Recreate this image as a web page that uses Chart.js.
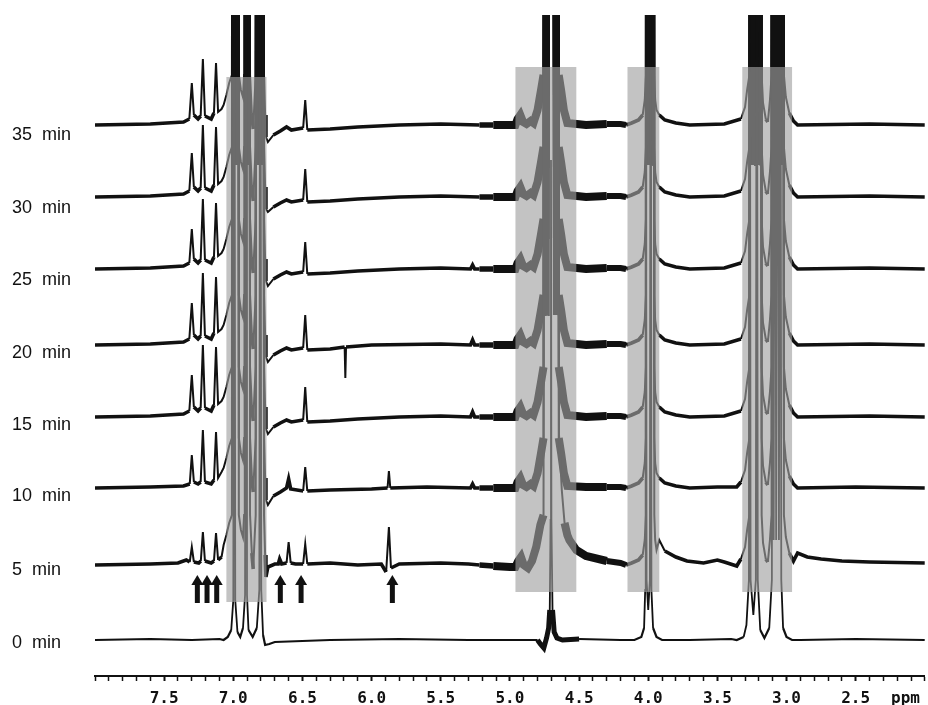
<!DOCTYPE html>
<html>
<head>
<meta charset="utf-8">
<script src="https://cdn.jsdelivr.net/npm/chart.js@4.4.1/dist/chart.umd.min.js"></script>
<style>
  html, body { margin: 0; padding: 0; background: #fff; }
  #wrap { width: 928px; height: 705px; position: relative; }
</style>
</head>
<body>
<div id="wrap"><canvas id="nmr"></canvas></div>
<script>
// trace names, bottom to top, with the level of each baseline (y units) and its label
const traceLabels = ['0  min', '5  min', '10  min', '15  min', '20  min', '25  min', '30  min', '35  min'];
const baselines = [36, 111, 188, 259, 331, 407, 479, 551];
const labelLevels = [33, 106, 180, 251, 323, 396, 468, 541];

// ppm axis
const majorTicks = [7.5, 7.0, 6.5, 6.0, 5.5, 5.0, 4.5, 4.0, 3.5, 3.0, 2.5];
const ppmTickAt = 2.14;

// shaded windows [ppm from, ppm to, y low, y high]
const shadeBoxes = [
    [7.05, 6.76, 74, 599],
    [4.96, 4.52, 84, 609],
    [4.15, 3.92, 84, 609],
    [3.32, 2.96, 84, 609]
];
// arrows under the 5 min trace
const arrowPpm = [7.26, 7.19, 7.12, 6.66, 6.51, 5.85];
const arrowSpan = [73, 101];

// strong signals, [ppm, height above baseline]; they run off the top
const aromaticPeaks = [
    [7.07, 20], [7.05, 30], [7.03, 42], [7.01, 50], [7.003, 900], [6.997, 400], [6.99, 900], [6.983, 400],
    [6.976, 900], [6.97, 400], [6.964, 900], [6.96, 50], [6.945, 35], [6.93, 28], [6.922, 50],
    [6.917, 900], [6.911, 400], [6.905, 900], [6.899, 400], [6.893, 900], [6.888, 400], [6.884, 900], [6.879, 50],
    [6.866, 12], [6.856, -4], [6.845, 30], [6.838, 50], [6.834, 900], [6.827, 400], [6.82, 900], [6.813, 400],
    [6.806, 900], [6.8, 400], [6.794, 900], [6.788, 400], [6.783, 900], [6.778, 50], [6.77, 10], [6.764, -12]
];
const waterPeaks = [
    [4.96, 0], [4.945, 6], [4.925, 10], [4.905, 3], [4.88, 1], [4.85, 4], [4.83, 2], [4.80, 15], [4.775, 35],
    [4.757, 50], [4.752, 900], [4.746, 250], [4.74, 900], [4.734, 250], [4.728, 900], [4.723, 250], [4.719, 900],
    [4.704, 700],
    [4.688, 900], [4.682, 250], [4.676, 900], [4.67, 250], [4.664, 900], [4.658, 250], [4.652, 900],
    [4.647, 50], [4.63, 35], [4.61, 15], [4.585, 2]
];
const waterPeaks5 = [
    [4.96, -2], [4.94, 4], [4.92, 8], [4.9, 0], [4.87, -3], [4.84, 4], [4.81, 18], [4.78, 40],
    [4.757, 50], [4.752, 900], [4.746, 250], [4.74, 900], [4.734, 250], [4.728, 900], [4.723, 250], [4.719, 900],
    [4.704, 700],
    [4.688, 900], [4.682, 250], [4.676, 900], [4.67, 250], [4.664, 900], [4.658, 250], [4.652, 900],
    [4.645, 130], [4.625, 75], [4.605, 42], [4.585, 30]
];
const peak40 = [
    [4.16, 0], [4.12, 2], [4.07, 5], [4.04, 10], [4.025, 25], [4.017, 50], [4.013, 900], [4.006, 400], [3.999, 900],
    [3.992, 400], [3.985, 900], [3.978, 400], [3.971, 900], [3.965, 400], [3.96, 900], [3.956, 50], [3.95, 25], [3.94, 15]
];
const peaks32 = [
    [3.33, 6], [3.30, 18], [3.285, 35], [3.268, 50], [3.263, 900], [3.256, 400], [3.249, 900],
    [3.242, 400], [3.235, 900], [3.228, 400], [3.221, 900], [3.214, 400], [3.207, 900], [3.2, 400], [3.193, 900],
    [3.188, 400], [3.185, 900], [3.18, 50], [3.17, 22], [3.15, 6], [3.135, 3], [3.12, 25], [3.108, 50],
    [3.104, 900], [3.097, 400], [3.09, 900], [3.083, 400], [3.076, 900], [3.069, 400], [3.062, 900], [3.055, 400],
    [3.048, 900], [3.041, 400], [3.034, 900], [3.028, 400], [3.024, 900], [3.019, 50], [3.005, 28], [2.98, 12], [2.95, 4]
];

// 0 min: narrow, clean signals
const zeroAromatic = [
    [7.07, 0], [7.04, 3], [7.015, 10], [7.0, 40], [6.993, 900], [6.986, 40], [6.97, 8], [6.95, 3], [6.93, 12],
    [6.915, 45], [6.908, 900], [6.901, 45], [6.89, 10], [6.86, 3], [6.83, 12], [6.812, 50], [6.805, 900],
    [6.798, 50], [6.785, 5], [6.77, -5]
];
const zeroWater = [
    [4.80, 0], [4.78, -4], [4.755, -8], [4.735, 2], [4.72, 12], [4.712, 30], [4.706, 120], [4.703, 480],
    [4.7, 120], [4.692, 30], [4.68, 8], [4.66, 2], [4.62, 0]
];
const zero40 = [
    [4.10, 0], [4.05, 3], [4.03, 12], [4.022, 50], [4.018, 900], [4.012, 60], [4.0, 30], [3.988, 60],
    [3.982, 900], [3.977, 50], [3.965, 12], [3.94, 3], [3.9, 0]
];
const zero32 = [
    [3.36, 0], [3.31, 3], [3.29, 15], [3.272, 60], [3.266, 900], [3.26, 60], [3.24, 25], [3.222, 60],
    [3.215, 900], [3.208, 60], [3.19, 10], [3.16, 2], [3.125, 12], [3.106, 60], [3.1, 900], [3.093, 100],
    [3.085, 900], [3.075, 100], [3.065, 900], [3.055, 100], [3.045, 900], [3.038, 60], [3.025, 12], [3.0, 3], [2.96, 0]
];

// weaker signals of each trace, outside the shaded windows
const trace0 = [
    [8.0, 0], [7.6, 1], [7.3, 0], [7.1, 1], [6.74, -4], [6.7, -2], [6.3, 0], [5.8, 1], [5.3, 0], [4.95, 0],
    [4.5, 1], [4.2, 0], [3.7, 0], [3.4, 1], [2.9, 0], [2.5, 1], [2.0, 0]
];
const trace5 = [
    [8.0, 0], [7.6, 1], [7.4, 2], [7.34, 5], [7.315, 3], [7.30, 18], [7.285, 3], [7.25, 2], [7.235, 4],
    [7.22, 33], [7.205, 4], [7.16, 2], [7.14, 4], [7.125, 32], [7.11, 5], [7.085, 8],
    [6.75, -2], [6.70, 1], [6.675, 1], [6.665, 6], [6.65, 1], [6.615, 2], [6.60, 23], [6.585, 2], [6.55, 1],
    [6.495, 1], [6.48, 21], [6.465, 1], [6.3, 2], [6.1, 0], [5.93, 1], [5.895, -7], [5.875, 38], [5.86, -3],
    [5.8, 1], [5.5, 2], [5.3, 1], [5.22, 0], [5.12, -1], [5.0, -2],
    [4.57, 25], [4.52, 15], [4.45, 9], [4.3, 4], [4.2, 2], [3.92, 25], [3.88, 14], [3.8, 8], [3.72, 4],
    [3.6, 2], [3.5, 5], [3.45, 3], [3.36, -1], [2.92, 12], [2.85, 8], [2.75, 6], [2.6, 4], [2.4, 3], [2.0, 2]
];
const trace10 = [
    [8.0, 0], [7.6, 1], [7.36, 2], [7.315, 4], [7.30, 33], [7.285, 6], [7.255, 4], [7.236, 6], [7.22, 58],
    [7.205, 6], [7.16, 4], [7.14, 8], [7.125, 56], [7.11, 10], [7.085, 16],
    [6.75, -17], [6.71, -8], [6.66, -4], [6.615, 0], [6.60, 9], [6.585, -1], [6.495, -3], [6.48, 21],
    [6.465, -3], [6.3, -2], [6.0, -1], [5.885, 0], [5.875, 17], [5.865, 0], [5.6, 1], [5.285, 0], [5.27, 4],
    [5.255, 0], [5.22, 0], [5.12, 0], [5.0, 0],
    [4.45, 1], [4.3, 1], [4.2, 1], [3.92, 10], [3.88, 5], [3.8, 2], [3.7, 0], [3.5, 1], [3.36, 1], [2.92, 0], [2.5, 1], [2.0, 0]
];
const trace15 = [
    [8.0, 0], [7.6, 1], [7.36, 3], [7.318, 6], [7.30, 42], [7.285, 10], [7.255, 6], [7.236, 9], [7.22, 72],
    [7.205, 9], [7.16, 6], [7.14, 12], [7.125, 70], [7.11, 13], [7.085, 16],
    [6.75, -17], [6.71, -10], [6.66, -6], [6.615, -3], [6.58, -5], [6.495, -3], [6.48, 30], [6.465, -5],
    [6.3, -4], [6.1, -2], [5.8, 0], [5.5, 1], [5.285, 0], [5.27, 5], [5.255, 0], [5.22, 0], [5.12, 0], [5.0, 0],
    [4.45, 0], [4.3, 1], [4.2, 1], [3.92, 10], [3.88, 5], [3.8, 2], [3.7, 0], [3.45, 1], [2.92, 0], [2.4, 1], [2.0, 0]
];
const trace20 = [
    [8.0, 0], [7.6, 1], [7.36, 3], [7.318, 6], [7.30, 42], [7.285, 10], [7.255, 6], [7.236, 9], [7.22, 72],
    [7.205, 9], [7.16, 6], [7.14, 12], [7.125, 68], [7.11, 13], [7.085, 16],
    [6.75, -17], [6.71, -10], [6.66, -6], [6.615, -3], [6.58, -5], [6.495, -3], [6.48, 30], [6.465, -5],
    [6.3, -4], [6.195, -2], [6.19, -33], [6.185, -2], [6.0, 0], [5.5, 1], [5.285, 0], [5.27, 5], [5.255, 0],
    [5.22, 0], [5.12, 0], [5.0, 0],
    [4.45, 0], [4.3, 1], [4.2, 1], [3.92, 10], [3.88, 5], [3.8, 2], [3.7, 0], [3.45, 1], [2.92, 0], [2.4, 1], [2.0, 0]
];
const trace25 = [
    [8.0, 0], [7.6, 1], [7.36, 3], [7.318, 6], [7.30, 40], [7.285, 10], [7.255, 6], [7.236, 9], [7.22, 70],
    [7.205, 9], [7.16, 6], [7.14, 12], [7.125, 66], [7.11, 13], [7.085, 16],
    [6.75, -17], [6.71, -10], [6.66, -6], [6.615, -3], [6.58, -5], [6.495, -3], [6.48, 27], [6.465, -5],
    [6.3, -4], [6.1, -2], [5.8, 0], [5.5, 1], [5.285, 0], [5.27, 4], [5.255, 0], [5.22, 0], [5.12, 0], [5.0, 0],
    [4.45, 0], [4.3, 1], [4.2, 1], [3.92, 10], [3.88, 5], [3.8, 2], [3.7, 0], [3.45, 1], [2.92, 0], [2.4, 1], [2.0, 0]
];
const trace30 = [
    [8.0, 0], [7.6, 1], [7.36, 3], [7.318, 6], [7.30, 44], [7.285, 10], [7.255, 6], [7.236, 9], [7.22, 72],
    [7.205, 9], [7.16, 6], [7.14, 12], [7.125, 70], [7.11, 13], [7.085, 16],
    [6.75, -15], [6.71, -10], [6.66, -6], [6.615, -3], [6.58, -5], [6.495, -3], [6.48, 28], [6.465, -5],
    [6.3, -4], [6.1, -2], [5.8, 0], [5.5, 1], [5.22, 0], [5.12, 0], [5.0, 0],
    [4.45, 0], [4.3, 1], [4.2, 1], [3.92, 10], [3.88, 5], [3.8, 2], [3.7, 0], [3.45, 1], [2.92, 0], [2.4, 1], [2.0, 0]
];
const trace35 = [
    [8.0, 0], [7.6, 1], [7.36, 3], [7.318, 6], [7.30, 42], [7.285, 10], [7.255, 6], [7.236, 9], [7.22, 66],
    [7.205, 9], [7.16, 6], [7.14, 12], [7.125, 62], [7.11, 13], [7.085, 16],
    [6.75, -17], [6.71, -10], [6.66, -6], [6.615, -2], [6.58, -5], [6.495, -3], [6.48, 25], [6.465, -5],
    [6.3, -4], [6.1, -2], [5.8, 0], [5.5, 1], [5.22, 0], [5.12, 0], [5.0, 0],
    [4.45, 0], [4.3, 1], [4.2, 1], [3.92, 10], [3.88, 5], [3.8, 2], [3.7, 0], [3.45, 1], [2.92, 0], [2.4, 1], [2.0, 0]
];

const traceParts = [
    [trace0, zeroAromatic, zeroWater, zero40, zero32],
    [trace5, aromaticPeaks, waterPeaks5, peak40, peaks32],
    [trace10, aromaticPeaks, waterPeaks, peak40, peaks32],
    [trace15, aromaticPeaks, waterPeaks, peak40, peaks32],
    [trace20, aromaticPeaks, waterPeaks, peak40, peaks32],
    [trace25, aromaticPeaks, waterPeaks, peak40, peaks32],
    [trace30, aromaticPeaks, waterPeaks, peak40, peaks32],
    [trace35, aromaticPeaks, waterPeaks, peak40, peaks32]
];

// join the pieces of a trace and lift it to its baseline
function buildTrace(i) {
    const pts = [].concat(...traceParts[i]).sort((a, b) => b[0] - a[0]);
    return pts.map(p => ({ x: p[0], y: baselines[i] + p[1] }));
}

// thick noisy band near the baseline, thin lines on the peaks
function segWidth(ctx) {
    const i = ctx.datasetIndex;
    const r0 = ctx.p0.parsed.y - baselines[i];
    const r1 = ctx.p1.parsed.y - baselines[i];
    const x0 = ctx.p0.parsed.x;
    const low = lim => Math.abs(r0) < lim && Math.abs(r1) < lim;
    if (i === 0) {
        if (x0 <= 4.80 && x0 >= 4.62 && low(35)) return 5;
        return low(15) ? 2.2 : 1.8;
    }
    if (low(60)) {
        if (x0 <= 5.22 && x0 > 5.12) return 5.5;
        if (x0 <= 5.12 && x0 > 4.3) return 8;
        if (x0 <= 4.3 && x0 > 4.16) return 6;
    }
    return low(15) ? 3.6 : 2;
}

const overlayPlugin = {
    id: 'overlay',
    afterDatasetsDraw(chart) {
        const { ctx, scales: { x, y } } = chart;
        ctx.save();
        ctx.fillStyle = 'rgba(160,160,160,0.63)';
        shadeBoxes.forEach(b => {
            const l = x.getPixelForValue(b[0]);
            const r = x.getPixelForValue(b[1]);
            const t = y.getPixelForValue(b[3]);
            const btm = y.getPixelForValue(b[2]);
            ctx.fillRect(l, t, r - l, btm - t);
        });
        ctx.fillStyle = '#111';
        arrowPpm.forEach(p => {
            const cx = x.getPixelForValue(p);
            const tip = y.getPixelForValue(arrowSpan[1]);
            const end = y.getPixelForValue(arrowSpan[0]);
            ctx.fillRect(cx - 2.5, tip + 8, 5, end - tip - 8);
            ctx.beginPath();
            ctx.moveTo(cx, tip);
            ctx.lineTo(cx - 6, tip + 10);
            ctx.lineTo(cx + 6, tip + 10);
            ctx.closePath();
            ctx.fill();
        });
        ctx.restore();
    }
};

const ctx = document.getElementById('nmr').getContext('2d');
new Chart(ctx, {
    type: 'line',
    data: {
        datasets: traceLabels.map((lab, i) => ({
            label: lab,
            data: buildTrace(i),
            borderColor: '#111',
            borderWidth: 2,
            pointRadius: 0,
            tension: 0,
            fill: false,
            segment: { borderWidth: segWidth }
        }))
    },
    options: {
        responsive: true,
        maintainAspectRatio: false,
        animation: false,
        layout: { padding: { top: 15, left: 12, right: 3, bottom: 0 } },
        plugins: { legend: { display: false }, tooltip: { enabled: false } },
        scales: {
            x: {
                type: 'linear',
                reverse: true,
                min: 2.0,
                max: 8.0,
                afterBuildTicks: axis => {
                    const t = [];
                    for (let i = 20; i <= 80; i++) t.push({ value: i / 10 });
                    t.push({ value: ppmTickAt });
                    axis.ticks = t;
                },
                afterFit: axis => { axis.height = 29; },
                grid: {
                    drawOnChartArea: false,
                    drawTicks: true,
                    tickLength: 5,
                    tickColor: c => (c.tick && c.tick.value === ppmTickAt) ? 'rgba(0,0,0,0)' : '#111',
                    tickWidth: c => (c.tick && majorTicks.includes(c.tick.value)) ? 2 : 1.5
                },
                border: { display: true, color: '#111', width: 2 },
                ticks: {
                    autoSkip: false,
                    maxRotation: 0,
                    padding: 8,
                    color: '#111',
                    font: { family: 'DejaVu Sans Mono', size: 16, weight: 'bold' },
                    callback: v => majorTicks.includes(v) ? v.toFixed(1) : (v === ppmTickAt ? 'ppm' : '')
                }
            },
            y: {
                type: 'linear',
                min: 0,
                max: 661,
                afterBuildTicks: axis => { axis.ticks = labelLevels.map(v => ({ value: v })); },
                afterFit: axis => { axis.width = 83; },
                grid: { display: false },
                border: { display: false },
                ticks: {
                    crossAlign: 'far',
                    color: '#111',
                    font: { family: 'Liberation Sans', size: 18 },
                    callback: v => traceLabels[labelLevels.indexOf(v)]
                }
            }
        }
    },
    plugins: [overlayPlugin]
});
</script>
</body>
</html>
